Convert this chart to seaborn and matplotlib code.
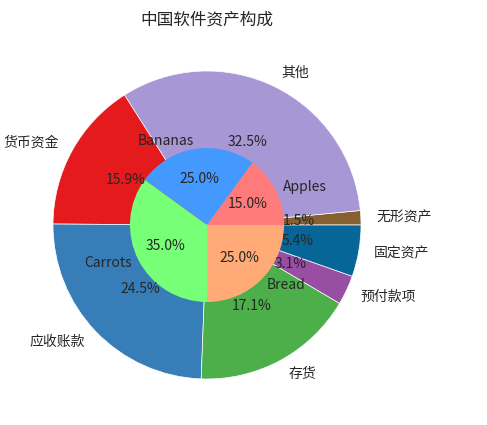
import matplotlib
matplotlib.use("Agg")
import matplotlib.pyplot as plt
from matplotlib import font_manager
import seaborn as sns

# outer ring: asset structure
asset_labels = ["无形资产", "其他", "货币资金", "应收账款", "存货", "预付款项", "固定资产"]
asset_share = [1.5, 32.5, 15.9, 24.5, 17.1, 3.1, 5.4]
asset_colors = ["#86612f", "#a797d4", "#e41a1c", "#377eb8", "#4daf4a", "#984ea3", "#066698"]

# inner pie
food_labels = ["Apples", "Bananas", "Carrots", "Bread"]
food_share = [15, 25, 35, 25]
food_colors = ["#ff7b7b", "#4499ff", "#77ff77", "#ffaa77"]

sns.set_theme(style="white")
names = {f.name for f in font_manager.fontManager.ttflist}
mono = "Noto Sans Mono CJK SC" if "Noto Sans Mono CJK SC" in names else "Noto Sans CJK SC"
plt.rcParams["font.family"] = [mono, "Noto Sans CJK SC", "DejaVu Sans"]
plt.rcParams["text.color"] = ".15"

fig = plt.figure(figsize=(4.87, 4.25), dpi=100)
ax = fig.add_axes([14.5 / 487, 7.5 / 425, 385 / 487, 385 / 425])

ax.pie(asset_share, labels=asset_labels, colors=asset_colors, autopct="%.1f%%",
       startangle=0, radius=1, textprops={"fontsize": 10},
       wedgeprops={"edgecolor": "w", "linewidth": 0.5})
ax.pie(food_share, labels=food_labels, colors=food_colors, autopct="%.1f%%",
       startangle=0, radius=0.5, textprops={"fontsize": 10},
       wedgeprops={"edgecolor": "none"})
ax.set_title("中国软件资产构成", fontsize=12)

fig.savefig("out.png", dpi=100)
